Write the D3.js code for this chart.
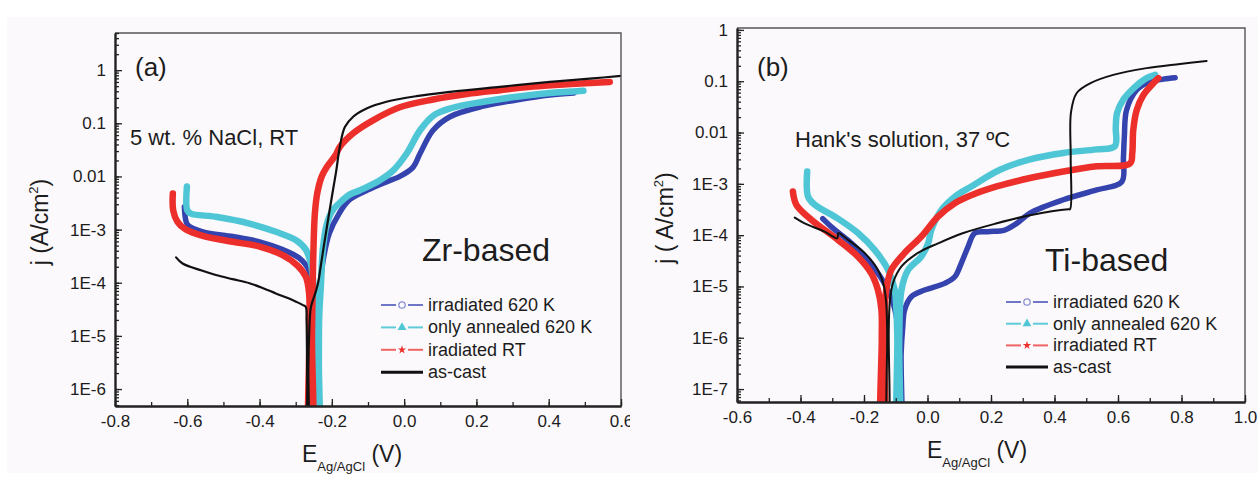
<!DOCTYPE html>
<html>
<head>
<meta charset="utf-8">
<script src="https://cdn.jsdelivr.net/npm/d3@7"></script>
<style>
  body { margin: 0; background: #ffffff; }
  svg { display: block; }
  text { font-family: "Liberation Sans", Arial, sans-serif; fill: #1c1c1c; }
</style>
</head>
<body>
<svg id="fig" width="1258" height="477"></svg>
<script>
// ---------- Panel (a): Zr-based glass, 5 wt.% NaCl, RT ----------
const zrXTicks  = [-0.8, -0.6, -0.4, -0.2, 0.0, 0.2, 0.4, 0.6];
const zrXLabels = ["-0.8", "-0.6", "-0.4", "-0.2", "0.0", "0.2", "0.4", "0.6"];
const zrYTicks  = [1, 0.1, 0.01, 1e-3, 1e-4, 1e-5, 1e-6];
const zrYLabels = ["1", "0.1", "0.01", "1E-3", "1E-4", "1E-5", "1E-6"];
const zrNames   = ["irradiated 620 K", "only annealed 620 K", "iradiated RT", "as-cast"];

// [E (V vs Ag/AgCl), j (A/cm2)]
const zrIrr620 = [
  [-0.608, 2.7e-3], [-0.605, 1.6e-3], [-0.599, 1.23e-3], [-0.557, 9.1e-4], [-0.474, 7.4e-4],
  [-0.400, 5.9e-4], [-0.336, 4.2e-4], [-0.290, 2.9e-4], [-0.263, 1.7e-4], [-0.252, 6.3e-5],
  [-0.247, 1e-5], [-0.246, 1e-7], [-0.242, 1e-7], [-0.240, 1e-5], [-0.232, 1e-4],
  [-0.222, 3.2e-4], [-0.207, 8.5e-4], [-0.180, 2.0e-3], [-0.152, 3.6e-3], [-0.100, 5.6e-3],
  [-0.060, 7.4e-3], [-0.012, 1.0e-2], [0.025, 1.5e-2], [0.044, 2.7e-2], [0.080, 7.4e-2],
  [0.127, 0.133], [0.219, 0.21], [0.311, 0.275], [0.403, 0.34], [0.470, 0.37]
];
const zrAnn620 = [
  [-0.601, 6.5e-3], [-0.600, 2.3e-3], [-0.590, 2.0e-3], [-0.521, 1.74e-3], [-0.428, 1.3e-3],
  [-0.355, 9.1e-4], [-0.299, 6.3e-4], [-0.272, 4.2e-4], [-0.258, 2.3e-4], [-0.253, 1.3e-4],
  [-0.245, 4e-5], [-0.242, 6.3e-6], [-0.241, 1e-7], [-0.237, 1e-7], [-0.236, 3.2e-6],
  [-0.235, 2.3e-5], [-0.230, 9.8e-5], [-0.225, 4.2e-4], [-0.214, 1.26e-3], [-0.198, 2.3e-3],
  [-0.178, 3.2e-3], [-0.152, 4.5e-3], [-0.122, 5.5e-3], [-0.067, 8.5e-3], [-0.030, 1.3e-2],
  [0.007, 2.7e-2], [0.044, 7.4e-2], [0.081, 0.14], [0.127, 0.19], [0.219, 0.254],
  [0.311, 0.316], [0.403, 0.37], [0.496, 0.41]
];
const zrIrrRT = [
  [-0.640, 4.8e-3], [-0.639, 2.3e-3], [-0.627, 1.4e-3], [-0.604, 1.0e-3], [-0.557, 7.6e-4],
  [-0.474, 5.9e-4], [-0.400, 4.8e-4], [-0.336, 3.3e-4], [-0.295, 2.1e-4], [-0.272, 1.3e-4],
  [-0.263, 6.3e-5], [-0.262, 1e-5], [-0.261, 1e-7], [-0.256, 1e-7], [-0.255, 1e-5],
  [-0.253, 1e-4], [-0.251, 4e-4], [-0.247, 2e-3], [-0.240, 5e-3], [-0.228, 1e-2],
  [-0.214, 1.5e-2], [-0.190, 2.5e-2], [-0.178, 3.6e-2], [-0.141, 6.5e-2], [-0.085, 0.115],
  [-0.012, 0.20], [0.080, 0.28], [0.173, 0.355], [0.265, 0.42], [0.357, 0.49],
  [0.450, 0.54], [0.569, 0.60]
];
const zrAsCast = [
  [-0.631, 3.0e-4], [-0.613, 2.3e-4], [-0.560, 1.7e-4], [-0.521, 1.4e-4], [-0.475, 1.17e-4],
  [-0.428, 9.8e-5], [-0.390, 7.9e-5], [-0.355, 6.3e-5], [-0.320, 5.1e-5], [-0.299, 4.4e-5],
  [-0.280, 3.8e-5], [-0.272, 3.5e-5], [-0.270, 2.0e-5], [-0.269, 6.3e-6], [-0.268, 1e-6],
  [-0.268, 1e-7], [-0.266, 1e-7], [-0.265, 2.5e-6], [-0.263, 1e-5], [-0.258, 3.5e-5],
  [-0.246, 6.3e-5], [-0.238, 1e-4], [-0.231, 2.0e-4], [-0.222, 5.0e-4], [-0.210, 1.6e-3],
  [-0.198, 5.0e-3], [-0.188, 1.26e-2], [-0.178, 3.6e-2], [-0.164, 8.5e-2], [-0.141, 0.133],
  [-0.104, 0.19], [-0.049, 0.254], [0.034, 0.324], [0.127, 0.39], [0.265, 0.486],
  [0.403, 0.60], [0.522, 0.70], [0.600, 0.78]
];

// ---------- Panel (b): Ti-based glass, Hank's solution, 37 ºC ----------
const tiXTicks  = [-0.6, -0.4, -0.2, 0.0, 0.2, 0.4, 0.6, 0.8, 1.0];
const tiXLabels = ["-0.6", "-0.4", "-0.2", "0.0", "0.2", "0.4", "0.6", "0.8", "1.0"];
const tiYTicks  = [1, 0.1, 0.01, 1e-3, 1e-4, 1e-5, 1e-6, 1e-7];
const tiYLabels = ["1", "0.1", "0.01", "1E-3", "1E-4", "1E-5", "1E-6", "1E-7"];
const tiNames   = ["irradiated 620 K", "only annealed 620 K", "irradiated RT", "as-cast"];

const tiIrr620 = [
  [-0.330, 2.1e-4], [-0.300, 1.4e-4], [-0.250, 7.9e-5], [-0.200, 4e-5], [-0.150, 1.6e-5],
  [-0.115, 6.3e-6], [-0.095, 2e-6], [-0.089, 5e-7], [-0.088, 1e-8], [-0.084, 1e-8],
  [-0.083, 5e-7], [-0.078, 1.6e-6], [-0.072, 3.5e-6], [-0.051, 6.3e-6], [-0.009, 8.5e-6],
  [0.054, 1.15e-5], [0.086, 1.55e-5], [0.106, 2.8e-5], [0.128, 6.0e-5], [0.149, 1.1e-4],
  [0.190, 1.17e-4], [0.243, 1.26e-4], [0.281, 1.7e-4], [0.323, 2.7e-4], [0.428, 4.9e-4],
  [0.533, 7.6e-4], [0.612, 1.1e-3], [0.617, 3.2e-3], [0.620, 8.3e-3], [0.627, 2.75e-2],
  [0.659, 6.8e-2], [0.701, 9.8e-2], [0.743, 0.11], [0.780, 0.117]
];
const tiAnn620 = [
  [-0.379, 1.74e-3], [-0.376, 5.6e-4], [-0.355, 3.9e-4], [-0.282, 2.1e-4], [-0.219, 1.1e-4],
  [-0.166, 5.1e-5], [-0.124, 2.1e-5], [-0.103, 8.5e-6], [-0.098, 3.5e-6], [-0.095, 1e-6],
  [-0.094, 1e-8], [-0.090, 1e-8], [-0.089, 1e-6], [-0.082, 8.5e-6], [-0.061, 2.1e-5],
  [-0.020, 3.8e-5], [0.002, 6.9e-5], [0.012, 1.26e-4], [0.044, 3.1e-4], [0.086, 5.6e-4],
  [0.138, 8.9e-4], [0.230, 1.9e-3], [0.323, 3.0e-3], [0.428, 4.0e-3], [0.533, 4.7e-3],
  [0.590, 5.4e-3], [0.593, 1.26e-2], [0.597, 2.4e-2], [0.617, 4.4e-2], [0.648, 7.2e-2],
  [0.690, 0.115], [0.717, 0.133]
];
const tiIrrRT = [
  [-0.424, 7.1e-4], [-0.413, 3.9e-4], [-0.366, 2.0e-4], [-0.282, 8.1e-5], [-0.219, 3.8e-5],
  [-0.177, 1.8e-5], [-0.156, 8.5e-6], [-0.145, 3.5e-6], [-0.144, 1e-6], [-0.144, 1e-8],
  [-0.138, 1e-8], [-0.137, 1e-6], [-0.130, 8.5e-6], [-0.114, 2.1e-5], [-0.072, 4.5e-5],
  [-0.020, 9.3e-5], [0.033, 2.3e-4], [0.086, 4.2e-4], [0.138, 6.0e-4], [0.218, 8.9e-4],
  [0.323, 1.3e-3], [0.428, 1.74e-3], [0.533, 2.2e-3], [0.638, 2.5e-3], [0.645, 4e-3],
  [0.648, 1.1e-2], [0.659, 2.75e-2], [0.680, 5.4e-2], [0.711, 9.1e-2], [0.727, 0.115]
];
const tiAsCast = [
  [-0.418, 2.2e-4], [-0.387, 1.7e-4], [-0.324, 1.17e-4], [-0.284, 8.7e-5], [-0.281, 1.1e-4],
  [-0.250, 8.1e-5], [-0.198, 4.5e-5], [-0.156, 2.1e-5], [-0.137, 1e-5], [-0.130, 4.7e-6],
  [-0.127, 1.4e-6], [-0.126, 1e-8], [-0.123, 1e-8], [-0.122, 1.4e-6], [-0.119, 4.7e-6],
  [-0.109, 1.15e-5], [-0.082, 2.45e-5], [-0.030, 4.5e-5], [0.033, 6.9e-5], [0.113, 1.1e-4],
  [0.218, 1.7e-4], [0.323, 2.45e-4], [0.443, 3.2e-4], [0.449, 3.2e-4], [0.451, 3.2e-3],
  [0.452, 2.5e-2], [0.470, 5.9e-2], [0.512, 9.1e-2], [0.585, 0.133], [0.690, 0.18],
  [0.795, 0.217], [0.879, 0.249]
];

// ---------- styling of the four series ----------
const seriesStyle = [
  { color: "#3443ad", legend: "#6f76c6", width: 5.5, marker: "circle" },
  { color: "#4fc6d6", legend: "#5fcbd8", width: 6.5, marker: "triangle" },
  { color: "#ec2f2a", legend: "#f26464", width: 6.5, marker: "star" },
  { color: "#111111", legend: "#111111", width: 2.2, marker: null }
];

const svg = d3.select("#fig");
const defs = svg.append("defs");
svg.append("rect").attr("x", 7).attr("y", 17).attr("width", 1251).attr("height", 456)
   .attr("fill", "#fbf9fb");

defs.append("clipPath").attr("id", "clip-left")
    .append("rect").attr("x", 0).attr("y", 0).attr("width", 630).attr("height", 477);

function drawPanel(p) {
  const root = svg.append("g");
  if (p.clip) root.attr("clip-path", `url(#${p.clip})`);

  const x = d3.scaleLinear().domain(p.xDomain).range([p.left, p.right]);
  const y = d3.scaleLog().domain(p.yDomain).range([p.bottom, p.top]);

  const plotClip = p.id + "-plot";
  defs.append("clipPath").attr("id", plotClip)
      .append("rect").attr("x", p.left).attr("y", p.top)
      .attr("width", p.right - p.left).attr("height", p.bottom - p.top);

  // polarisation curves
  const line = d3.line().x(d => x(d[0])).y(d => y(d[1]))
                 .curve(d3.curveCatmullRom.alpha(0.5));
  const curves = root.append("g").attr("clip-path", `url(#${plotClip})`);
  p.series.forEach((s, i) => {
    const st = seriesStyle[i];
    curves.append("path").attr("d", line(s))
      .attr("fill", "none").attr("stroke", st.color)
      .attr("stroke-width", i === 3 ? p.blackWidth : st.width)
      .attr("stroke-linejoin", "round").attr("stroke-linecap", "round");
  });

  // top and right frame
  root.append("path")
    .attr("d", `M${p.left},${p.top}H${p.right}V${p.bottom}`)
    .attr("fill", "none").attr("stroke", "#555").attr("stroke-width", 1.4);

  // x axis (ticks pointing inward)
  const xMinor = d3.range(Math.round(p.xDomain[0] * 10), Math.round(p.xDomain[1] * 10) + 1)
                   .map(v => v / 10);
  const gxm = root.append("g").attr("transform", `translate(0,${p.bottom})`)
    .call(d3.axisBottom(x).tickValues(xMinor).tickSize(-4).tickSizeOuter(0).tickFormat(""));
  const gx = root.append("g").attr("transform", `translate(0,${p.bottom})`)
    .call(d3.axisBottom(x).tickValues(p.xTicks).tickSize(-7).tickSizeOuter(0)
            .tickPadding(9).tickFormat((d, i) => p.xLabels[i]));

  // y axis (log, inward ticks)
  const yMinor = y.ticks(12).filter(v => v >= p.yDomain[0] && v <= p.yDomain[1]);
  const gym = root.append("g").attr("transform", `translate(${p.left},0)`)
    .call(d3.axisLeft(y).tickValues(yMinor).tickSize(-4).tickSizeOuter(0).tickFormat(""));
  const gy = root.append("g").attr("transform", `translate(${p.left},0)`)
    .call(d3.axisLeft(y).tickValues(p.yTicks).tickSize(-7).tickSizeOuter(0)
            .tickPadding(9).tickFormat((d, i) => p.yLabels[i]));

  [gxm, gx, gym, gy].forEach(g => {
    g.selectAll("path.domain").attr("stroke", "#222").attr("stroke-width", 1.9);
    g.selectAll(".tick line").attr("stroke", "#222").attr("stroke-width", 1.3);
    g.selectAll(".tick text").attr("font-size", 17).attr("fill", "#222")
      .style("font-family", "'Liberation Sans', Arial, sans-serif");
  });

  // axis titles
  const xt = root.append("text").attr("x", p.xTitleX).attr("y", p.bottom + 56)
    .attr("font-size", 23);
  xt.append("tspan").text("E");
  xt.append("tspan").attr("font-size", 13).attr("dy", 9).text("Ag/AgCl");
  xt.append("tspan").attr("dy", -9).text(" (V)");

  const yt = root.append("text")
    .attr("transform", `translate(${p.yTitleX},${p.yTitleY}) rotate(-90)`)
    .attr("text-anchor", "middle").attr("font-size", 23);
  yt.append("tspan").text(p.yTitleText);
  yt.append("tspan").attr("font-size", 13).attr("dy", -10).text("2");
  yt.append("tspan").attr("dy", 10).text(")");

  // annotations
  root.append("text").attr("x", p.left + 20).attr("y", 76).attr("font-size", 26).text(p.tag);
  root.append("text").attr("x", p.condX).attr("y", p.condY).attr("font-size", 22).text(p.condition);
  root.append("text").attr("x", p.alloyX).attr("y", p.alloyY).attr("font-size", 32).text(p.alloy);

  // legend
  const lg = root.append("g");
  p.names.forEach((name, i) => {
    const st = seriesStyle[i];
    const cy = p.legY + i * p.legStep;
    const x0 = p.legX, x1 = p.legX + 42, xm = p.legX + 21;
    if (st.marker) {
      lg.append("line").attr("x1", x0).attr("x2", xm - 6).attr("y1", cy).attr("y2", cy)
        .attr("stroke", st.legend).attr("stroke-width", 2);
      lg.append("line").attr("x1", xm + 6).attr("x2", x1).attr("y1", cy).attr("y2", cy)
        .attr("stroke", st.legend).attr("stroke-width", 2);
      if (st.marker === "circle") {
        lg.append("circle").attr("cx", xm).attr("cy", cy).attr("r", 3.2)
          .attr("fill", "#fbf9fb").attr("stroke", "#8a90d4").attr("stroke-width", 1.3);
      } else {
        const sym = st.marker === "triangle" ? d3.symbolTriangle : d3.symbolStar;
        lg.append("path").attr("d", d3.symbol(sym, st.marker === "triangle" ? 34 : 22)())
          .attr("transform", `translate(${xm},${cy})`).attr("fill", st.color);
      }
    } else {
      lg.append("line").attr("x1", x0).attr("x2", x1).attr("y1", cy).attr("y2", cy)
        .attr("stroke", st.legend).attr("stroke-width", 3);
    }
    lg.append("text").attr("x", x1 + 5).attr("y", cy + 6).attr("font-size", 18).text(name);
  });
}

drawPanel({
  id: "zr", clip: "clip-left",
  left: 115, right: 621, top: 33, bottom: 406,
  xDomain: [-0.8, 0.6], yDomain: [4.8e-7, 5],
  xTicks: zrXTicks, xLabels: zrXLabels, yTicks: zrYTicks, yLabels: zrYLabels,
  series: [zrIrr620, zrAnn620, zrIrrRT, zrAsCast], names: zrNames, blackWidth: 2.2,
  xTitleX: 302, yTitleX: 48, yTitleY: 222, yTitleText: "j (A/cm",
  tag: "(a)", condition: "5 wt. % NaCl, RT", condX: 130, condY: 145,
  alloy: "Zr-based", alloyX: 422, alloyY: 261,
  legX: 381, legY: 305, legStep: 22.4
});

drawPanel({
  id: "ti", clip: null,
  left: 737, right: 1245, top: 28, bottom: 402,
  xDomain: [-0.6, 1.0], yDomain: [5.6e-8, 1.09],
  xTicks: tiXTicks, xLabels: tiXLabels, yTicks: tiYTicks, yLabels: tiYLabels,
  series: [tiIrr620, tiAnn620, tiIrrRT, tiAsCast], names: tiNames, blackWidth: 2,
  xTitleX: 927, yTitleX: 673, yTitleY: 218, yTitleText: "j ( A/cm",
  tag: "(b)", condition: "Hank's solution, 37 ºC", condX: 795, condY: 147,
  alloy: "Ti-based", alloyX: 1045, alloyY: 271,
  legX: 1006, legY: 302, legStep: 21.7
});
</script>
</body>
</html>
